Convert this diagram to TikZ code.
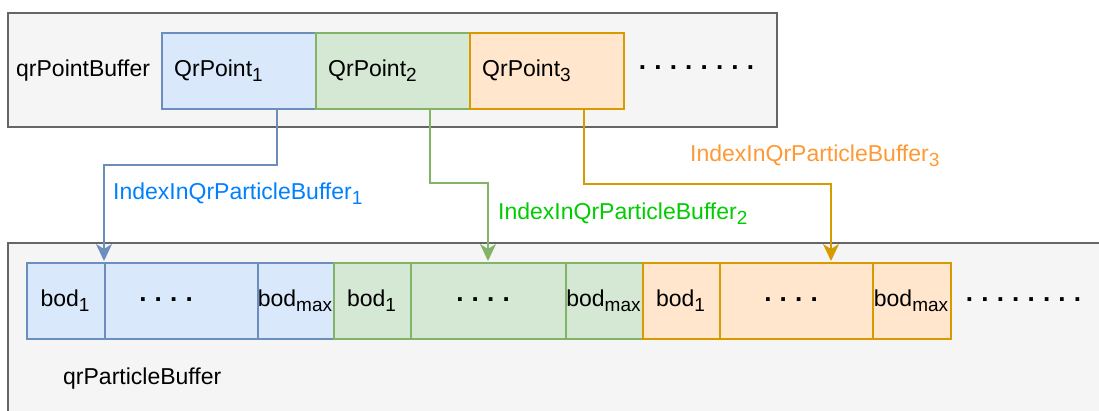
\documentclass[tikz,border=0pt]{standalone}
\usepackage{fontspec}
\setmainfont{Liberation Sans}
\usetikzlibrary{arrows.meta}
\definecolor{bluefill}{HTML}{DAE8FC}
\definecolor{bluestroke}{HTML}{6C8EBF}
\definecolor{greenfill}{HTML}{D5E8D4}
\definecolor{greenstroke}{HTML}{82B366}
\definecolor{orangefill}{HTML}{FFE6CC}
\definecolor{orangestroke}{HTML}{D79B00}
\definecolor{panelfill}{HTML}{F5F5F5}
\definecolor{panelstroke}{HTML}{666666}
\definecolor{bluetext}{HTML}{007FFF}
\definecolor{greentext}{HTML}{00CC00}
\definecolor{orangetext}{HTML}{FF9933}
\newcommand{\subs}[1]{\raisebox{-5.5pt}{\fontsize{19}{19}\selectfont #1}}
\newcommand{\dotsfour}{.\hspace{8.2pt}.\hspace{8.2pt}.\hspace{8.2pt}.}
\newcommand{\dotseight}{\dotsfour\hspace{8.2pt}\dotsfour}
\tikzset{
  txt/.style={inner sep=0pt, font=\fontsize{23}{27}\selectfont},
  dotst/.style={inner sep=0pt, font=\fontsize{26}{30}\selectfont\bfseries},
  cellbox/.style={draw, line width=2pt, minimum height=76pt, inner sep=0pt, anchor=north west},
  panel/.style={draw=panelstroke, fill=panelfill, line width=2pt},
  conn/.style={line width=2pt, -{Stealth[length=17pt,width=16pt,inset=5pt]}},
}
\begin{document}
\begin{tikzpicture}[x=1pt,y=-1pt]
\useasboundingbox (0,0) rectangle (1099,410);
\clip (0,0) rectangle (1099,410);
% panels
\draw[panel] (7.5,243) rectangle (1120,430);
\draw[panel] (7.5,12.5) rectangle (776.5,127);
% top cells
\node[cellbox, fill=bluefill, draw=bluestroke, minimum width=154pt] (q1) at (161,32) {};
\node[cellbox, fill=greenfill, draw=greenstroke, minimum width=154pt] (q2) at (315,32) {};
\node[cellbox, fill=orangefill, draw=orangestroke, minimum width=154pt] (q3) at (469,32) {};
% bottom cells
\node[cellbox, fill=bluefill, draw=bluestroke, minimum width=78pt] (b1) at (26,262) {};
\node[cellbox, fill=bluefill, draw=bluestroke, minimum width=153pt] (b2) at (104,262) {};
\node[cellbox, fill=bluefill, draw=bluestroke, minimum width=76pt] (b3) at (257,262) {};
\node[cellbox, fill=greenfill, draw=greenstroke, minimum width=77pt] (g1) at (333,262) {};
\node[cellbox, fill=greenfill, draw=greenstroke, minimum width=155pt] (g2) at (410,262) {};
\node[cellbox, fill=greenfill, draw=greenstroke, minimum width=77pt] (g3) at (565,262) {};
\node[cellbox, fill=orangefill, draw=orangestroke, minimum width=77pt] (o1) at (642,262) {};
\node[cellbox, fill=orangefill, draw=orangestroke, minimum width=153pt] (o2) at (719,262) {};
\node[cellbox, fill=orangefill, draw=orangestroke, minimum width=78pt] (o3) at (872,262) {};
% connector end points
\coordinate (s1) at (277,108);
\coordinate (s2) at (430,108);
\coordinate (s3) at (584,108);
\coordinate (t1) at (104,261);
\coordinate (t2) at (488,261);
\coordinate (t3) at (831,261);
\draw[conn, draw=bluestroke] (s1) -- (277,165) -| (t1);
\draw[conn, draw=greenstroke] (s2) -- (430,183) -| (t2);
\draw[conn, draw=orangestroke] (s3) -- (584,184) -| (t3);
% texts
\node[txt, anchor=base west] (lpb) at (16,76) {qrPointBuffer};
\node[txt, anchor=base west] (lq1) at (174,76) {QrPoint\subs{1}};
\node[txt, anchor=base west] (lq2) at (328,76) {QrPoint\subs{2}};
\node[txt, anchor=base west] (lq3) at (482,76) {QrPoint\subs{3}};
\node[dotst] (dtop) at (696.5,68) {\dotseight};
\node[txt, anchor=base west, text=bluetext] (li1) at (113,199) {IndexInQrParticleBuffer\subs{1}};
\node[txt, anchor=base west, text=greentext] (li2) at (498,219) {IndexInQrParticleBuffer\subs{2}};
\node[txt, anchor=base west, text=orangetext] (li3) at (690,161) {IndexInQrParticleBuffer\subs{3}};
\node[txt, anchor=base] (lb1) at (65,306) {bod\subs{1}};
\node[dotst] (db2) at (166,299.5) {\dotsfour};
\node[txt, anchor=base] (lb3) at (295,306) {bod\subs{max}};
\node[txt, anchor=base] (lg1) at (371.5,306) {bod\subs{1}};
\node[dotst] (dg2) at (483,299.5) {\dotsfour};
\node[txt, anchor=base] (lg3) at (603.5,306) {bod\subs{max}};
\node[txt, anchor=base] (lo1) at (680.5,306) {bod\subs{1}};
\node[dotst] (do2) at (791,299.5) {\dotsfour};
\node[txt, anchor=base] (lo3) at (911,306) {bod\subs{max}};
\node[dotst] (dbot) at (1023.5,299.5) {\dotseight};
\node[txt, anchor=base west] (lppb) at (63,384) {qrParticleBuffer};
\end{tikzpicture}
\end{document}
